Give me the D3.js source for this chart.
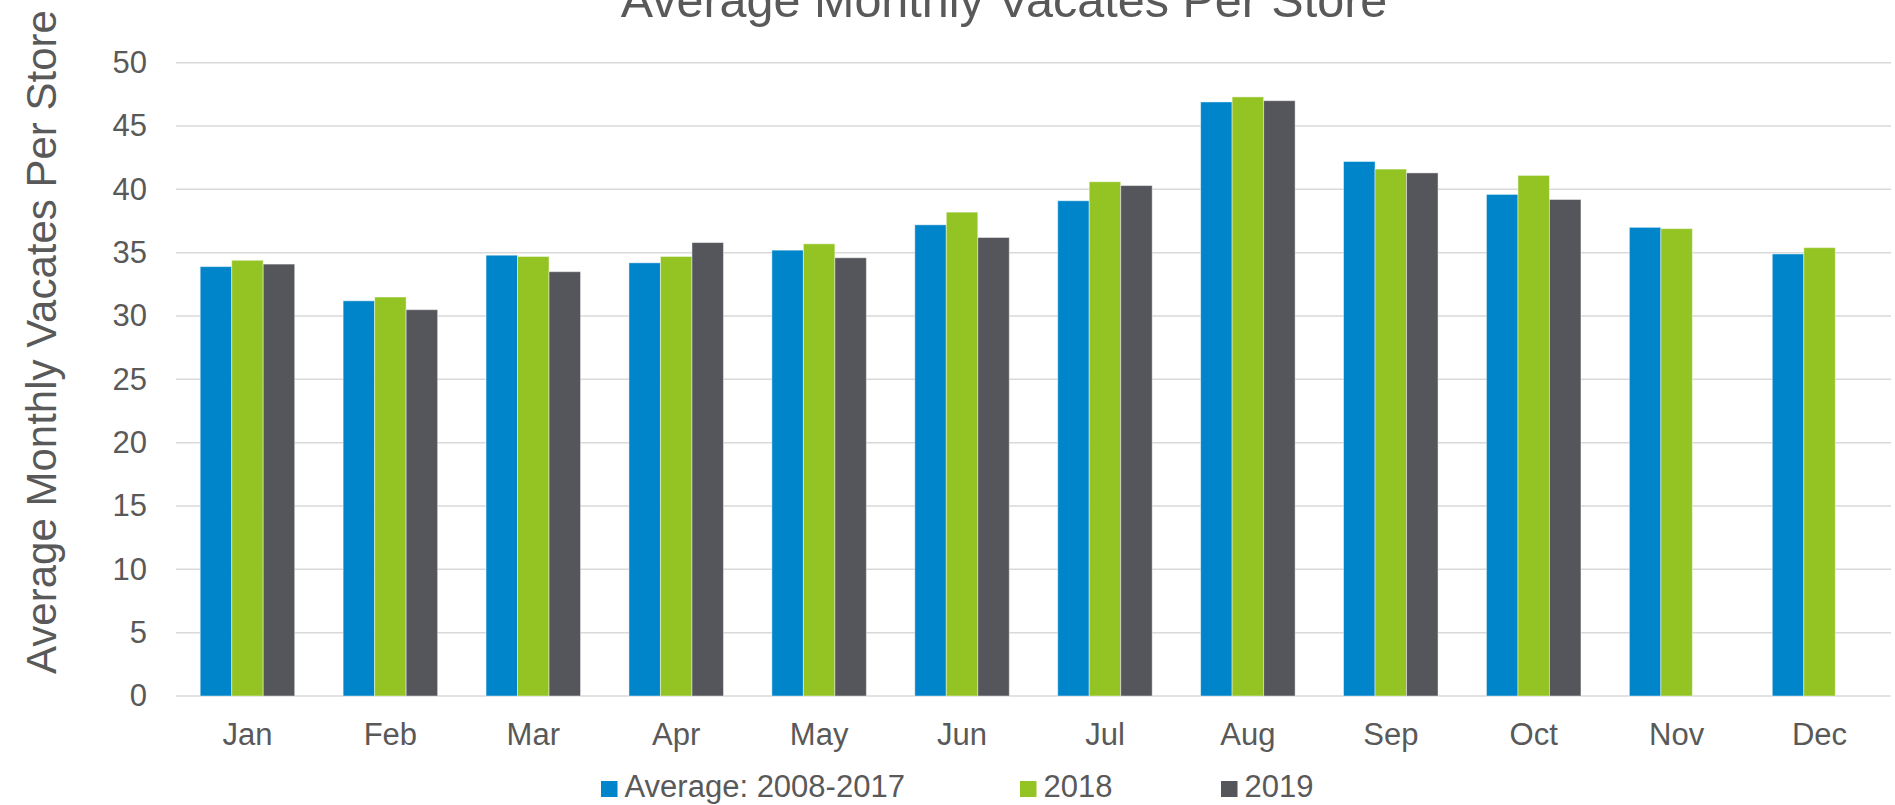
<!DOCTYPE html>
<html>
<head>
<meta charset="utf-8">
<script src="https://cdnjs.cloudflare.com/ajax/libs/d3/7.8.5/d3.min.js"></script>
<style>
  body { margin: 0; background: #fff; }
  svg { display: block; font-family: "Liberation Sans", Arial, sans-serif; }
</style>
</head>
<body>
<div id="chart"></div>
<script>
"use strict";

var months = ["Jan", "Feb", "Mar", "Apr", "May", "Jun", "Jul", "Aug", "Sep", "Oct", "Nov", "Dec"];
var seriesNames = ["Average: 2008-2017", "2018", "2019"];
var avg0817 = [33.9, 31.2, 34.8, 34.2, 35.2, 37.2, 39.1, 46.9, 42.2, 39.6, 37.0, 34.9];
var y2018   = [34.4, 31.5, 34.7, 34.7, 35.7, 38.2, 40.6, 47.3, 41.6, 41.1, 36.9, 35.4];
var y2019   = [34.1, 30.5, 33.5, 35.8, 34.6, 36.2, 40.3, 47.0, 41.3, 39.2, null, null];
var yTicks  = [0, 5, 10, 15, 20, 25, 30, 35, 40, 45, 50];
var colors  = ["#0084CA", "#93C424", "#55565B"];

var W = 1895, H = 805;
var plot = { left: 176, right: 1891, top: 62.7, bottom: 696 };
var textColor = "#595959";

var svg = d3.select("#chart").append("svg")
    .attr("width", W)
    .attr("height", H);

// == scales ==
var x0 = d3.scaleBand().domain(months).range([plot.left, plot.right]).padding(0);
var barW = 31.5;
var groupW = barW * seriesNames.length;
var x1 = d3.scaleBand().domain(d3.range(seriesNames.length))
    .range([(x0.bandwidth() - groupW) / 2, (x0.bandwidth() + groupW) / 2]);
var y = d3.scaleLinear().domain([0, 50]).range([plot.bottom, plot.top]);

// gridlines
svg.append("g").selectAll("line")
    .data(yTicks)
    .enter().append("line")
    .attr("x1", plot.left)
    .attr("x2", plot.right)
    .attr("y1", function (d) { return y(d); })
    .attr("y2", function (d) { return y(d); })
    .attr("stroke", "#D9D9D9")
    .attr("stroke-width", 1.5);

// y tick labels
var yAxis = d3.axisLeft(y).tickValues(yTicks).tickSize(0).tickPadding(29);
var gy = svg.append("g").attr("transform", "translate(" + plot.left + ",0)").call(yAxis);
gy.select(".domain").remove();
gy.selectAll("text")
    .attr("fill", textColor)
    .style("font-size", "31px")
    .style("font-family", "'Liberation Sans', Arial, sans-serif");

// bars
var rows = months.map(function (m, i) {
    return { month: m, values: [avg0817[i], y2018[i], y2019[i]] };
});

var groups = svg.append("g").selectAll("g")
    .data(rows)
    .enter().append("g")
    .attr("transform", function (d) { return "translate(" + x0(d.month) + ",0)"; });

groups.selectAll("rect")
    .data(function (d) {
        return d.values.map(function (v, k) { return { k: k, v: v }; })
                       .filter(function (e) { return e.v != null; });
    })
    .enter().append("rect")
    .attr("x", function (d) { return x1(d.k); })
    .attr("width", x1.bandwidth())
    .attr("y", function (d) { return y(d.v); })
    .attr("height", function (d) { return y(0) - y(d.v); })
    .attr("fill", function (d) { return colors[d.k]; })
    .attr("stroke", "rgba(255,255,255,0.45)")
    .attr("stroke-width", 1);

// x labels
var xAxis = d3.axisBottom(x0).tickSize(0).tickPadding(0);
var gx = svg.append("g").attr("transform", "translate(0," + plot.bottom + ")").call(xAxis);
gx.select(".domain").remove();
gx.selectAll("text")
    .attr("y", 49)
    .attr("dy", 0)
    .attr("fill", textColor)
    .style("font-size", "31px")
    .style("font-family", "'Liberation Sans', Arial, sans-serif");

// title (cut off at top like the source)
svg.append("text")
    .attr("x", 1004)
    .attr("y", 17)
    .attr("text-anchor", "middle")
    .attr("fill", textColor)
    .style("font-size", "48.5px")
    .text("Average Monthly Vacates Per Store");

// y axis title
svg.append("text")
    .attr("transform", "translate(56,342) rotate(-90)")
    .attr("text-anchor", "middle")
    .attr("fill", textColor)
    .style("font-size", "42px")
    .text("Average Monthly Vacates Per Store");

// legend
var legendX = [601, 1020, 1221];
var legend = svg.append("g").selectAll("g")
    .data(seriesNames)
    .enter().append("g")
    .attr("transform", function (d, i) { return "translate(" + legendX[i] + ",0)"; });
legend.append("rect")
    .attr("x", 0)
    .attr("y", 781)
    .attr("width", 16.5)
    .attr("height", 16)
    .attr("fill", function (d, i) { return colors[i]; });
legend.append("text")
    .attr("x", 23.5)
    .attr("y", 796.5)
    .attr("fill", textColor)
    .style("font-size", "31px")
    .text(function (d) { return d; });
</script>
</body>
</html>
